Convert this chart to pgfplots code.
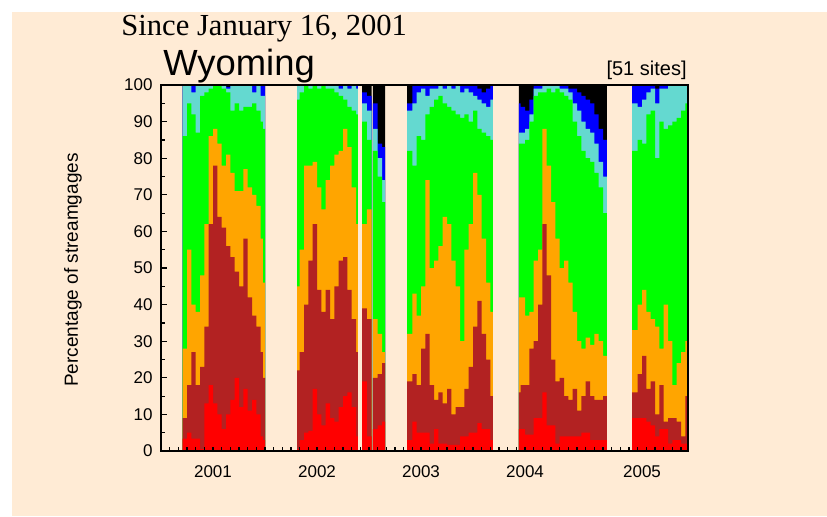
\documentclass[border=0pt]{standalone}
\usepackage{fontspec}
\setmainfont{Liberation Sans}
\newfontfamily\timesfont{Liberation Serif}
\usepackage{pgfplots}
\usepackage{pgfplotstable}
\pgfplotsset{compat=1.18}

\definecolor{bg}{RGB}{255,235,213}
\definecolor{wwred}{RGB}{255,0,0}
\definecolor{wwbrown}{RGB}{178,34,34}
\definecolor{wworange}{RGB}{255,165,0}
\definecolor{wwgreen}{RGB}{0,255,0}
\definecolor{wwcyan}{RGB}{100,217,208}
\definecolor{wwblue}{RGB}{0,0,255}

% m = months since Jan 2001; columns are cumulative tops of each class (percent of sites)
% rows of zeros start the winter gaps
\pgfplotstableread{
m     low  lt10 p10 p25 p75 p90  high
2.5   3.4  9    28  86  100 100  100
3.0   5    18   55  95  100 100  100
3.5   3.4  27   40  92  98  100  100
4.0   3.4  18   38  87  100 100  100
4.5   0.5  23   48  97  100 100  100
5.0   13   34   62  98  100 100  100
5.5   18   62   86  99  100 100  100
6.0   13   78   88  100 100 100  100
6.5   10   64   84  100 100 100  100
7.0   6    61   78  99  100 100  100
7.5   10   56   81  98  99  99.5 100
8.0   14   53   76  93  100 100  100
8.5   20   49   71  95  100 100  100
9.0   12   45   71  93  100 100  100
9.5   17   58   77  94  100 100  100
10.0  11   42   72  94  100 100  100
10.5  14   37   70  95  98  100  100
11.0  10   34   67  93  100 100  100
11.5  4    27   58  90  97  100  100
11.75 3    20   46  88  97  100  100
12.0  0    0    0   0   0   0    0
15.7  0.5  22   45  96  100 100  100
16.0  3    27   55  98  100 100  100
16.5  5    40   78  100 100 100  100
17.0  5.5  52   78  99  100 100  100
17.5  17   62   79  100 100 100  100
18.0  10   44   72  99  100 100  100
18.5  7    38   66  100 100 100  100
19.0  13   44   74  99  100 100  100
19.5  9    36   78  99  100 100  100
20.0  8    45   81  98  100 100  100
20.5  12   52   82  97  99  100  100
21.0  15   53   88  96  100 100  100
21.5  16   44   83  94  99  100  100
22.0  12   36   72  93  100 100  100
22.5  4    27   62  92  99  100  100
22.7  0    0    0   0   0   0    0
23.2  19   39   62  90  95  98   100
23.75 4    36   66  85  93  97   100
24.3  0    0    0   0   0   0    0
24.45 6    20   36  82  88  95   100
25.0  7    21   32  75  80  84   100
25.5  8    24   27  68  74  83   100
25.85 0    0    0   0   0   0    0
28.4  3    19   32  82  93  95   100
29.0  8    21   43  78  95  100  100
29.5  5    18   37  86  98  100  100
30.0  5    28   45  85  99  100  100
30.5  5    32   74  92  97  100  100
31.0  2    18   50  94  99  100  100
31.5  6    14   52  96  99  100  100
32.0  2    16   56  97  100 100  100
32.5  2    13   64  95  99  100  100
33.0  1.7  17   62  94  100 100  100
33.5  1.7  10   52  93  99  100  100
34.0  1.7  12   45  92  100 100  100
34.5  4    12   30  91  98  100  100
35.0  4    17   55  92  99  100  100
35.5  5    23   62  90  98  100  100
36.0  5    34   76  93  97  100  100
36.5  7.6  41   70  88  96  99   100
37.0  6    32   58  87  95  98   100
37.5  6    25   46  86  94  99   100
38.0  3    15   38  85  96  100  100
38.3  0    0    0   0   0   0    0
41.3  6    16   42  84  87  95   100
41.5  6    18   42  84  87  94   100
42.0  4.5  18   37  85  88  93   100
42.5  4.5  28   38  90  92  96   100
43.0  9    30   52  97  99  100  100
43.5  9    40   55  98  99  100  100
44.0  16   62   88  98  100 100  100
44.5  7    48   78  99  100 100  100
45.0  7    25   68  98  100 100  100
45.5  2    19   58  99  100 100  100
46.0  4    20   50  98  99  100  100
46.5  4    15   52  97  99  100  100
47.0  4    14   46  96  98  99   100
47.5  4    17   38  90  95  99   100
48.0  4    11   30  86  93  98   100
48.5  5    15   28  82  90  97   100
49.0  5    19   31  80  88  96   100
49.5  3    15   29  79  87  95   100
50.0  3    14   32  76  84  92   100
50.5  3    14   30  72  79  88   100
51.0  3    15   26  65  75  85   100
51.45 0    0    0   0   0   0    0
54.35 9    16   33  82  95  100  100
55.0  9    21   40  85  94  100  100
55.5  9    26   44  84  96  100  100
56.0  8    17   38  92  98  100  100
56.5  7    19   36  93  99  100  100
57.0  4    10   34  80  95  99   100
57.5  6    18   28  90  99  100  100
58.0  6    8    40  88  99  100  100
58.5  2    9    30  89  100 100  100
59.0  3    9    18  90  100 100  100
59.5  3    8    24  91  100 100  100
60.0  2    4    27  93  100 100  100
60.5  2    15   30  95  100 100  100
60.8  2    15   30  95  100 100  100
}\flow

\begin{document}
\begin{tikzpicture}
% page background: white margin at top and left, peach elsewhere
\fill[white] (-80.5pt,-32.5pt) rectangle (333pt,225.5pt);
\fill[bg] (-74.5pt,-32.5pt) rectangle (333pt,219.5pt);
\begin{axis}[
  at={(0,0)}, anchor=south west,
  scale only axis, width=263.5pt, height=183pt,
  xmin=0, xmax=60.8, ymin=0, ymax=100,
  axis on top,
  axis line style={line width=0.9pt},
  tick align=inside, tick pos=left,
  ytick={0,10,...,100}, minor y tick num=1,
  xtick={6,18,30,42,55.5}, xticklabels={2001,2002,2003,2004,2005},
  minor xtick={1,...,60},
  major x tick style={draw=none},
  major tick length=3pt, minor tick length=2pt,
  tick style={black, line width=0.6pt},
  ticklabel style={font=\fontsize{8.5}{10}\selectfont, inner sep=0pt},
  /pgf/number format/assume math mode=true,
  yticklabel style={xshift=-4pt},
  xticklabel style={yshift=-7pt},
  const plot,
]
\addplot[draw=none, fill=black]    table[x=m, y=high]{\flow} \closedcycle;
\addplot[draw=none, fill=wwblue]   table[x=m, y=p90]{\flow} \closedcycle;
\addplot[draw=none, fill=wwcyan]   table[x=m, y=p75]{\flow} \closedcycle;
\addplot[draw=none, fill=wwgreen]  table[x=m, y=p25]{\flow} \closedcycle;
\addplot[draw=none, fill=wworange] table[x=m, y=p10]{\flow} \closedcycle;
\addplot[draw=none, fill=wwbrown]  table[x=m, y=lt10]{\flow} \closedcycle;
\addplot[draw=none, fill=wwred]    table[x=m, y=low]{\flow} \closedcycle;
\end{axis}
\node[anchor=base west, inner sep=0pt, font=\timesfont\fontsize{15.3}{18}\selectfont] at (-20pt,208pt) {Since January 16, 2001};
\node[anchor=base west, inner sep=0pt, font=\fontsize{18.2}{22}\selectfont] at (1pt,188pt) {Wyoming};
\node[anchor=base east, inner sep=0pt, font=\fontsize{10}{12}\selectfont] at (263pt,188pt) {[51 sites]};
\node[rotate=90, inner sep=0pt, font=\fontsize{9.5}{11}\selectfont] at (-44pt,90.5pt) {Percentage of streamgages};
\end{tikzpicture}
\end{document}
